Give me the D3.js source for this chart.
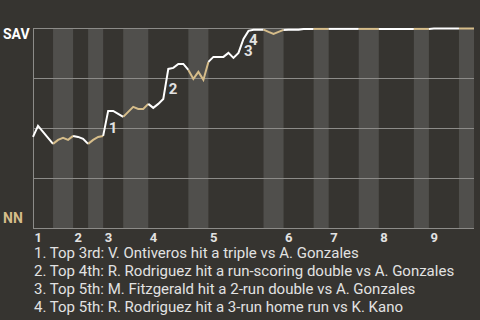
<!DOCTYPE html>
<html>
<head>
<meta charset="utf-8">
<script src="https://cdn.jsdelivr.net/npm/d3@7"></script>
<style>
  html, body { margin: 0; padding: 0; background: #363430; }
  svg { display: block; font-family: Roboto, "Noto Sans", sans-serif; }
</style>
</head>
<body>
<svg id="chart" width="480" height="320"></svg>
<script>
// Plate appearances per half-inning (top 1, bottom 1, top 2, ...)
const halfInningPAs = [4, 4, 3, 3, 4, 5, 8, 4, 11, 4, 6, 3, 6, 4, 7, 3, 6, 3];

// SAV win probability after each plate appearance (first value = first pitch)
const winProb = [
  0.458,
  0.513, 0.483, 0.453, 0.423,
  0.443, 0.453, 0.443, 0.463,
  0.458, 0.448, 0.423,
  0.443, 0.458, 0.463,
  0.588, 0.588, 0.573, 0.558,
  0.583, 0.608, 0.598, 0.598, 0.623,
  0.603, 0.623, 0.648, 0.798, 0.803, 0.823, 0.823, 0.793,
  0.748, 0.783, 0.743, 0.833,
  0.858, 0.858, 0.858, 0.878, 0.853, 0.878, 0.948, 0.988, 0.994, 0.994, 0.994,
  0.983, 0.973, 0.983, 0.993,
  0.994, 0.994, 0.994, 0.998, 0.998, 0.998,
  0.998, 0.998, 0.998,
  0.998, 0.998, 0.998, 0.998, 0.998, 0.998,
  0.998, 0.998, 0.998, 0.998,
  0.998, 0.998, 0.998, 0.998, 0.998, 0.998, 0.998,
  0.998, 0.998, 0.998,
  1.0, 1.0, 1.0, 1.0, 1.0, 1.0,
  1.0, 1.0, 1.0
];

// Key plays: index of the plate appearance and its description
const eventIndex = [15, 27, 42, 43];
const eventText = [
  "1. Top 3rd: V. Ontiveros hit a triple vs A. Gonzales",
  "2. Top 4th: R. Rodriguez hit a run-scoring double vs A. Gonzales",
  "3. Top 5th: M. Fitzgerald hit a 2-run double vs A. Gonzales",
  "4. Top 5th: R. Rodriguez hit a 3-run home run vs K. Kano"
];

const inningLabels = ["1", "2", "3", "4", "5", "6", "7", "8", "9"];
const awayTeam = "SAV";
const homeTeam = "NN";
const gridTicks = [0.25, 0.5, 0.75, 1];

const colors = {
  bg: "#363430",
  band: "#504f4c",
  grid: "#8c8b88",
  away: "#ffffff",
  home: "#d6bd8a",
  text: "#e2e2e2"
};

const svg = d3.select("#chart");
const totalPAs = winProb.length - 1;

const x = d3.scaleLinear().domain([0, totalPAs]).range([33, 474]);
const y = d3.scaleLinear().domain([0, 1]).range([228.5, 28.5]);

// Half-inning boundaries in plate-appearance units
const bounds = [0];
halfInningPAs.forEach(n => bounds.push(bounds[bounds.length - 1] + n));
const halves = halfInningPAs.map((n, i) => ({ start: bounds[i], end: bounds[i + 1], top: i % 2 === 0 }));

// Shaded bands for bottom halves
svg.append("g").selectAll("rect")
  .data(halves.filter(h => !h.top))
  .join("rect")
  .attr("x", d => x(d.start))
  .attr("width", d => x(d.end) - x(d.start))
  .attr("y", y(1))
  .attr("height", y(0) - y(1))
  .attr("fill", colors.band);

// Horizontal grid lines
svg.append("g").selectAll("line")
  .data(gridTicks)
  .join("line")
  .attr("x1", x(0)).attr("x2", x(totalPAs))
  .attr("y1", d => y(d)).attr("y2", d => y(d))
  .attr("stroke", colors.grid).attr("stroke-width", 1);

// Axes: left and bottom
svg.append("line")
  .attr("x1", x(0) + 0.5).attr("x2", x(0) + 0.5)
  .attr("y1", y(1)).attr("y2", y(0))
  .attr("stroke", colors.grid);
svg.append("line")
  .attr("x1", x(0)).attr("x2", x(totalPAs))
  .attr("y1", y(0)).attr("y2", y(0))
  .attr("stroke", colors.grid);

// Win probability line, coloured by the batting team of each half-inning
const line = d3.line().x(d => x(d[0])).y(d => y(d[1]));
svg.append("g").selectAll("path")
  .data(halves)
  .join("path")
  .attr("d", h => line(d3.range(h.start, h.end + 1).map(i => [i, winProb[i]])))
  .attr("fill", "none")
  .attr("stroke", h => h.top ? colors.away : colors.home)
  .attr("stroke-width", 2)
  .attr("stroke-linejoin", "miter");

// Numbered markers beside key plays
svg.append("g").selectAll("text")
  .data(eventIndex)
  .join("text")
  .attr("x", i => (x(i - 1) + x(i)) / 2 + 3)
  .attr("y", i => (y(winProb[i - 1]) + y(winProb[i])) / 2 + 10)
  .attr("fill", colors.text)
  .attr("font-size", 15)
  .attr("font-weight", "bold")
  .text((d, k) => k + 1);

// Team labels
svg.append("text")
  .attr("x", 3).attr("y", 39)
  .attr("fill", colors.away)
  .attr("font-size", 14).attr("font-weight", "bold")
  .text(awayTeam);
svg.append("text")
  .attr("x", 3).attr("y", 223)
  .attr("fill", colors.home)
  .attr("font-size", 14).attr("font-weight", "bold")
  .text(homeTeam);

// Inning numbers at the start of each inning
svg.append("g").selectAll("text")
  .data(inningLabels)
  .join("text")
  .attr("x", (d, i) => x(bounds[i * 2]) + 1.5)
  .attr("y", 242)
  .attr("fill", colors.text)
  .attr("font-size", 13)
  .attr("font-weight", "bold")
  .text(d => d);

// Key play descriptions
svg.append("g").selectAll("text")
  .data(eventText)
  .join("text")
  .attr("x", 34)
  .attr("y", (d, i) => 258 + i * 18)
  .attr("fill", colors.text)
  .attr("font-size", 15)
  .text(d => d);
</script>
</body>
</html>
